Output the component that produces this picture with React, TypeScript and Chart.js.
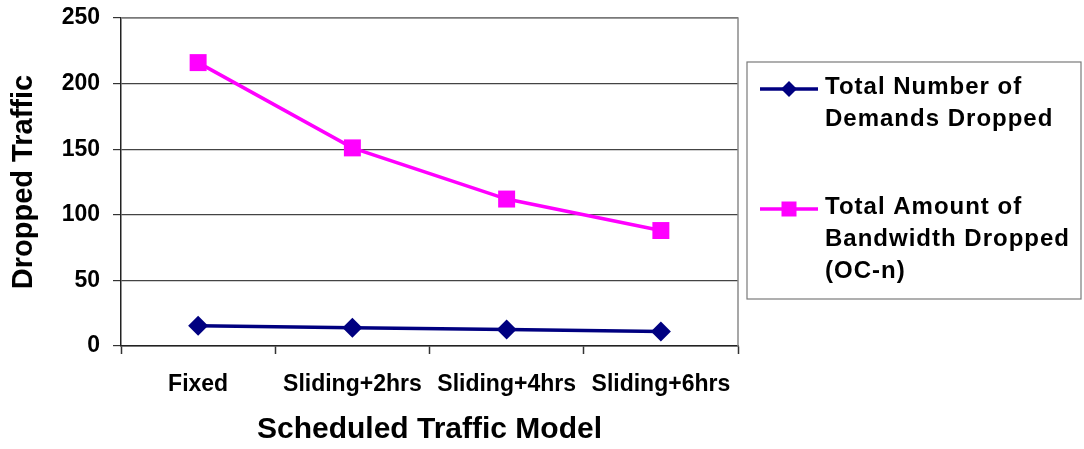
import React, { useEffect, useRef } from 'react';
import { Chart, registerables } from 'chart.js';

Chart.register(...registerables);

const FONT = "'Liberation Sans', Arial, Helvetica, sans-serif";

// ---- data ----
const categories = ['Fixed', 'Sliding+2hrs', 'Sliding+4hrs', 'Sliding+6hrs'];
const demandsDropped = [15.5, 14, 12.5, 11];
const bandwidthDropped = [216, 151, 112, 88];
const yMin = 0;
const yMax = 250;
const yStep = 50;
const seriesLabels = ['Total Number of Demands Dropped', 'Total Amount of Bandwidth Dropped (OC-n)'];
const legendLines = [
  ['Total Number of', 'Demands Dropped'],
  ['Total Amount of', 'Bandwidth Dropped', '(OC-n)'],
];
const xTitle = 'Scheduled Traffic Model';
const yTitle = 'Dropped Traffic';

export default function App() {
  const ref = useRef<HTMLCanvasElement>(null);

  useEffect(() => {
    if (!ref.current) return;

    const borderPlugin = {
      id: 'plotBorder',
      beforeDatasetsDraw(chart: any) {
        const { ctx, chartArea } = chart;
        ctx.save();
        ctx.strokeStyle = '#8a8a8a';
        ctx.lineWidth = 1.5;
        ctx.beginPath();
        ctx.moveTo(chartArea.left, chartArea.top);
        ctx.lineTo(chartArea.right, chartArea.top);
        ctx.lineTo(chartArea.right, chartArea.bottom);
        ctx.stroke();
        ctx.restore();
      },
    };

    const legendPlugin = {
      id: 'boxLegend',
      afterDraw(chart: any) {
        const { ctx, chartArea, width } = chart;
        const left = chartArea.right + 9;
        const right = width - 3;
        const top = 62;
        const bottom = 299;
        ctx.save();
        ctx.strokeStyle = '#7a7a7a';
        ctx.lineWidth = 1.2;
        ctx.strokeRect(left, top, right - left, bottom - top);

        const lineH = 32;
        let y = top + 25;
        chart.data.datasets.forEach((ds: any, i: number) => {
          const lines = legendLines[i];
          const sy = y + 2;
          const x0 = left + 13;
          const x1 = left + 71;
          const cx = (x0 + x1) / 2;
          ctx.strokeStyle = ds.borderColor;
          ctx.lineWidth = 3.5;
          ctx.beginPath();
          ctx.moveTo(x0, sy);
          ctx.lineTo(x1, sy);
          ctx.stroke();
          ctx.fillStyle = ds.backgroundColor;
          ctx.beginPath();
          if (ds.pointStyle === 'rectRot') {
            const r = 8;
            ctx.moveTo(cx, sy - r);
            ctx.lineTo(cx + r, sy);
            ctx.lineTo(cx, sy + r);
            ctx.lineTo(cx - r, sy);
            ctx.closePath();
          } else {
            const s = 7.5;
            ctx.rect(cx - s, sy - s, 2 * s, 2 * s);
          }
          ctx.fill();

          ctx.fillStyle = '#000';
          ctx.font = `bold 24px ${FONT}`;
          (ctx as any).letterSpacing = '1px';
          ctx.textBaseline = 'middle';
          ctx.textAlign = 'left';
          lines.forEach((t: string, j: number) => {
            ctx.fillText(t, left + 78, y + j * lineH);
          });
          y += lines.length * lineH + 56;
        });
        ctx.restore();
      },
    };

    const chart = new Chart(ref.current, {
      type: 'line',
      data: {
        labels: categories,
        datasets: [
          {
            label: seriesLabels[0],
            data: demandsDropped,
            borderColor: '#000080',
            backgroundColor: '#000080',
            borderWidth: 3.5,
            pointStyle: 'rectRot',
            pointRadius: 10,
            pointBorderWidth: 0,
            pointHoverRadius: 10,
            tension: 0,
          },
          {
            label: seriesLabels[1],
            data: bandwidthDropped,
            borderColor: '#ff00ff',
            backgroundColor: '#ff00ff',
            borderWidth: 3.5,
            pointStyle: 'rect',
            pointRadius: 12,
            pointBorderWidth: 0,
            pointHoverRadius: 12,
            tension: 0,
          },
        ],
      },
      options: {
        responsive: false,
        animation: false,
        layout: { padding: { top: 18, right: 346, left: 0, bottom: 0 } },
        plugins: {
          legend: { display: false },
          tooltip: { enabled: false },
        },
        scales: {
          x: {
            type: 'category',
            offset: true,
            afterFit(scale: any) {
              scale.height = 103;
              scale.paddingLeft = 0;
              scale.paddingRight = 0;
            },
            grid: {
              offset: true,
              drawOnChartArea: false,
              drawTicks: true,
              tickLength: 8,
              tickColor: '#333',
              tickWidth: 1.5,
            },
            border: { display: true, color: '#222', width: 1.5 },
            ticks: {
              color: '#000',
              font: { family: FONT, size: 23, weight: 'bold' },
              padding: 17,
              maxRotation: 0,
              autoSkip: false,
            },
            title: {
              display: true,
              text: xTitle,
              color: '#000',
              font: { family: FONT, size: 30, weight: 'bold' },
              padding: { top: 0, bottom: 1 },
            },
          },
          y: {
            min: yMin,
            max: yMax,
            afterFit(scale: any) {
              scale.width = 121;
              scale.paddingTop = 0;
              scale.paddingBottom = 0;
            },
            grid: {
              color: '#444',
              lineWidth: 1.2,
              drawTicks: true,
              tickLength: 8,
              tickColor: '#333',
              tickWidth: 1.2,
            },
            border: { display: true, color: '#222', width: 1.5 },
            ticks: {
              stepSize: yStep,
              color: '#000',
              font: { family: FONT, size: 23, weight: 'bold' },
              padding: 13,
            },
            title: {
              display: true,
              text: yTitle,
              color: '#000',
              font: { family: FONT, size: 29, weight: 'bold' },
              padding: { top: 7, bottom: 0 },
            },
          },
        },
      },
      plugins: [borderPlugin, legendPlugin],
    } as any);

    return () => chart.destroy();
  }, []);

  return (
    <div style={{ position: 'absolute', left: 0, top: 0, width: 1084, height: 449, background: '#fff' }}>
      <canvas ref={ref} width={1084} height={449} style={{ display: 'block' }} />
    </div>
  );
}
